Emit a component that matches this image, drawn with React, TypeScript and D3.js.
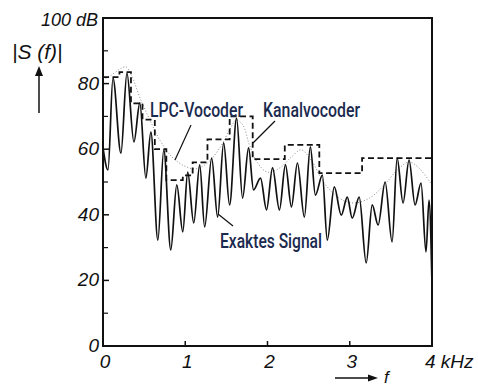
import React from "react";
import * as d3 from "d3";

// exact spectrum, peaks and valleys (kHz, dB)
const exactFreq = [
  0, 0.061, 0.121, 0.218, 0.291, 0.376, 0.448, 0.521, 0.582, 0.667, 0.739, 0.824,
  0.897, 0.97, 1.03, 1.103, 1.176, 1.236, 1.321, 1.394, 1.467, 1.539, 1.624, 1.697,
  1.77, 1.83, 1.915, 1.988, 2.061, 2.145, 2.218, 2.291, 2.364, 2.448, 2.521, 2.582,
  2.667, 2.727, 2.812, 2.897, 2.97, 3.03, 3.115, 3.2, 3.273, 3.345, 3.43, 3.515,
  3.576, 3.648, 3.721, 3.794, 3.867, 3.927, 3.964, 4.0,
];
const exactDb = [
  60.4, 53.7, 81.7, 58.8, 83.2, 62.2, 74.1, 51.2, 65.2, 32.3, 59.8, 29.3,
  49.1, 34.8, 53.0, 37.5, 55.2, 36.3, 57.3, 39.3, 61.9, 43.0, 69.5, 45.1,
  60.4, 47.6, 51.2, 41.5, 54.3, 41.5, 55.2, 42.4, 55.8, 39.3, 60.7, 46.0,
  52.1, 32.3, 48.5, 39.9, 45.4, 39.0, 45.4, 25.3, 43.0, 36.9, 50.0, 31.7,
  57.3, 43.6, 56.7, 43.0, 49.7, 28.7, 44.5, 18.6,
];

// LPC envelope (dotted)
const lpcFreq = [
  0, 0.085, 0.21, 0.28, 0.36, 0.46, 0.57, 0.69, 0.84, 0.99, 1.12, 1.27, 1.42, 1.54,
  1.62, 1.7, 1.78, 1.88, 2.0, 2.15, 2.29, 2.41, 2.53, 2.69, 2.87, 3.05, 3.24, 3.42,
  3.58, 3.72, 3.84, 4.0,
];
const lpcDb = [
  81.1, 82.3, 84.5, 85.1, 81.7, 75, 68.9, 62.8, 57.6, 54.9, 54, 55.8, 60.4, 65.9,
  68.9, 67.4, 61.3, 55.8, 53, 54.3, 57.6, 59.8, 56.7, 49.7, 45.1, 43.6, 45.1, 49.1,
  53.7, 56.1, 54.3, 49.1,
];

// channel vocoder steps (band edges in kHz, level per band)
const kanalEdges = [0, 0.2, 0.34, 0.48, 0.63, 0.77, 0.97, 1.09, 1.27, 1.54, 1.82, 2.21, 2.63, 3.15, 4.0];
const kanalDb = [82, 83.5, 74, 69, 60, 50.6, 52, 56, 63, 70, 57, 61.3, 52.7, 57.3];

const yTicks = [0, 20, 40, 60, 80];
const yMinor = [10, 30, 50, 70, 90];
const xTicks = [0, 1, 2, 3];

const width = 478;
const height = 387;
const left = 103;
const right = 432;
const top = 18;
const bottom = 346;

const navy = "#1b2a4e";
const labelFont = "Roboto, 'DejaVu Sans', sans-serif";
const axisFont = "'Liberation Sans', Arial, sans-serif";

export default function App() {
  const x = d3.scaleLinear().domain([0, 4]).range([left, right]);
  const y = d3.scaleLinear().domain([0, 100]).range([bottom, top]);

  const exactPts: [number, number][] = exactFreq.map((f, i) => [f, exactDb[i]]);
  const lpcPts: [number, number][] = lpcFreq.map((f, i) => [f, lpcDb[i]]);
  const kanalPts: [number, number][] = kanalDb.map((d, i) => [kanalEdges[i], d]);
  kanalPts.push([kanalEdges[kanalEdges.length - 1], kanalDb[kanalDb.length - 1]]);

  const exactLine = d3
    .line<[number, number]>()
    .x((d) => x(d[0]))
    .y((d) => y(d[1]))
    .curve(d3.curveMonotoneX);
  const lpcLine = d3
    .line<[number, number]>()
    .x((d) => x(d[0]))
    .y((d) => y(d[1]))
    .curve(d3.curveCatmullRom);
  const kanalLine = d3
    .line<[number, number]>()
    .x((d) => x(d[0]))
    .y((d) => y(d[1]))
    .curve(d3.curveStepAfter);

  return (
    <svg
      width={width}
      height={height}
      style={{ position: "absolute", left: 0, top: 0, background: "#fff" }}
    >
      <path d={lpcLine(lpcPts) || ""} fill="none" stroke="#888" strokeWidth={1} strokeDasharray="1,2" />
      <path d={kanalLine(kanalPts) || ""} fill="none" stroke="#111" strokeWidth={1.8} strokeDasharray="6,3.5" />
      <path d={exactLine(exactPts) || ""} fill="none" stroke="#111" strokeWidth={1.7} strokeLinejoin="round" />

      {/* frame */}
      <rect x={left} y={top} width={right - left} height={bottom - top} fill="none" stroke="#111" strokeWidth={2} />

      {/* y ticks */}
      {yTicks.map((t) => (
        <g key={"y" + t}>
          <line x1={left} x2={left + 6} y1={y(t)} y2={y(t)} stroke="#111" strokeWidth={1.5} />
          <text
            x={left - 4}
            y={y(t) + 6}
            textAnchor="end"
            fontFamily={axisFont}
            fontStyle="italic"
            fontSize={19}
            fill="#111"
          >
            {t}
          </text>
        </g>
      ))}
      {yMinor.map((t) => (
        <line key={"ym" + t} x1={left} x2={left + 5} y1={y(t)} y2={y(t)} stroke="#111" strokeWidth={1.2} />
      ))}
      <text x={left - 5} y={top + 8} textAnchor="end" fontFamily={axisFont} fontStyle="italic" fontSize={18} fill="#111">
        100 dB
      </text>
      <text x={12} y={59} fontFamily={axisFont} fontStyle="italic" fontSize={21} fill="#111">
        |S (f)|
      </text>
      <line x1={39} x2={39} y1={113} y2={74} stroke="#111" strokeWidth={1.5} />
      <path d="M35,76 L39,66 L43,76 Z" fill="#111" />

      {/* x ticks */}
      {xTicks.map((t) => (
        <g key={"x" + t}>
          {t > 0 && <line x1={x(t)} x2={x(t)} y1={bottom} y2={bottom - 5} stroke="#111" strokeWidth={1.5} />}
          <text
            x={x(t) + 2}
            y={bottom + 22}
            textAnchor="middle"
            fontFamily={axisFont}
            fontStyle="italic"
            fontSize={19}
            fill="#111"
          >
            {t}
          </text>
        </g>
      ))}
      <text x={x(4) - 7} y={bottom + 22} fontFamily={axisFont} fontStyle="italic" fontSize={19} fill="#111">
        4 kHz
      </text>
      <line x1={335} x2={370} y1={378} y2={378} stroke="#111" strokeWidth={1.5} />
      <path d="M368,374.5 L378,378 L368,381.5 Z" fill="#111" />
      <text x={384} y={383} fontFamily={axisFont} fontStyle="italic" fontSize={17} fill="#111">
        f
      </text>

      {/* annotations */}
      <line x1={175} y1={160} x2={191} y2={125} stroke="#111" strokeWidth={1.2} />
      <line x1={253} y1={143} x2={275} y2={121} stroke="#111" strokeWidth={1.2} />
      <line x1={218} y1={214} x2={233} y2={226} stroke="#111" strokeWidth={1.2} />
      <text
        x={150}
        y={117}
        fontFamily={labelFont}
        fontWeight={500}
        fontSize={20}
        fill={navy}
        textLength={93}
        lengthAdjust="spacingAndGlyphs"
      >
        LPC-Vocoder
      </text>
      <text
        x={263}
        y={117}
        fontFamily={labelFont}
        fontWeight={500}
        fontSize={20}
        fill={navy}
        textLength={97}
        lengthAdjust="spacingAndGlyphs"
      >
        Kanalvocoder
      </text>
      <text
        x={220}
        y={248}
        fontFamily={labelFont}
        fontWeight={500}
        fontSize={20}
        fill={navy}
        textLength={102}
        lengthAdjust="spacingAndGlyphs"
      >
        Exaktes Signal
      </text>
    </svg>
  );
}
